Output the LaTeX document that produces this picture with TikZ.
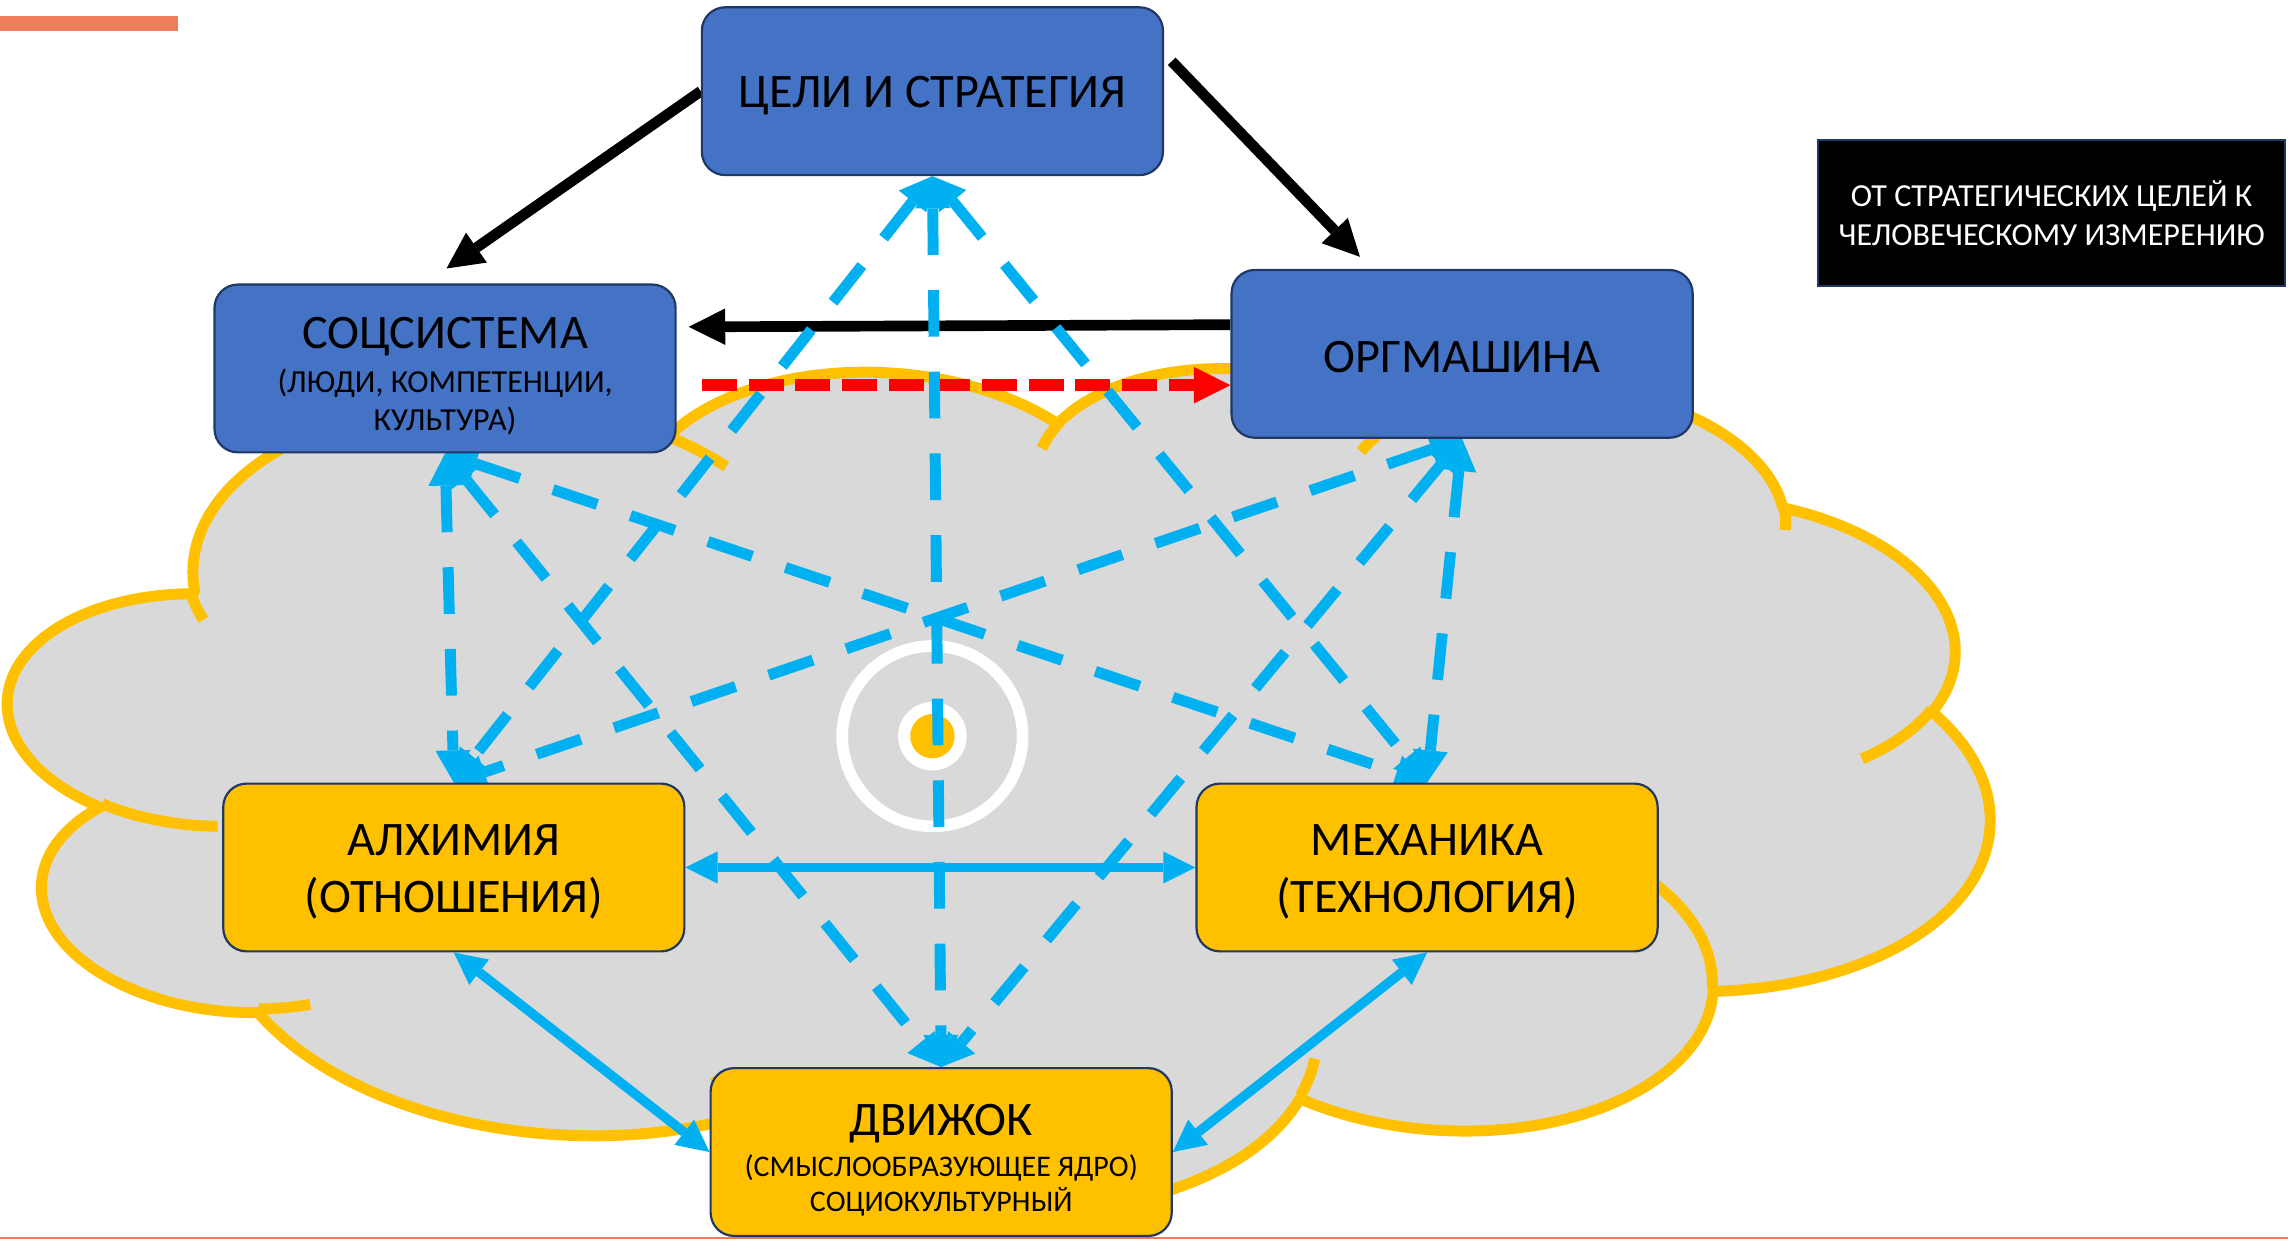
\documentclass[tikz,border=0pt]{standalone}
\usepackage{fontspec}
\setmainfont{Carlito}
\usetikzlibrary{arrows.meta,calc}
\pgfdeclarelayer{back}
\pgfdeclarelayer{mid}
\pgfsetlayers{back,mid,main}
\definecolor{boxblue}{HTML}{4472C4}
\definecolor{boxline}{HTML}{203864}
\definecolor{gold}{HTML}{FFC000}
\definecolor{skyb}{HTML}{00B0F0}
\definecolor{cloudgray}{HTML}{D9D9D9}
\definecolor{salmon}{HTML}{F07C5E}
\definecolor{redd}{HTML}{FF0000}
% visual angle -> parametric angle for elliptical arcs (DrawingML cloud)
\newcommand\cqdef[5]{%
  \pgfmathsetmacro\cqTa{atan2((#2)*sin(#4),(#3)*cos(#4))}%
  \pgfmathsetmacro\cqTb{atan2((#2)*sin((#4)+(#5)),(#3)*cos((#4)+(#5)))}%
  \pgfmathsetmacro\cqTd{\cqTb-\cqTa}%
  \pgfmathsetmacro\cqTd{\cqTd-360*round((\cqTd-(#5))/360)}%
  \expandafter\xdef\csname cq#1s\endcsname{\cqTa}%
  \expandafter\xdef\csname cq#1d\endcsname{\cqTd}%
}
\cqdef{A}{6.753}{9.190}{-190.4875}{123.7805}
\cqdef{B}{5.333}{7.267}{-144.1024}{89.9452}
\cqdef{C}{4.365}{5.945}{-145.8079}{99.7230}
\cqdef{D}{4.857}{6.595}{-130.9861}{117.2417}
\cqdef{E}{5.333}{7.273}{-78.7089}{109.0269}
\cqdef{F}{6.775}{9.220}{-46.2673}{130.2690}
\cqdef{G}{5.785}{7.867}{0.6250}{114.0333}
\cqdef{H}{6.752}{9.215}{22.4516}{115.1726}
\cqdef{I}{7.720}{10.543}{66.2426}{75.7110}
\cqdef{J}{4.360}{5.918}{-274.9421}{146.7356}
\cqdef{K}{4.345}{5.945}{-246.8285}{152.5189}
\cqdef{a}{4.345}{5.945}{86.7420}{26.4295}
\cqdef{b}{4.360}{5.918}{73.6105}{11.4475}
\cqdef{c}{6.752}{9.215}{137.6242}{14.0811}
\cqdef{d}{6.752}{9.215}{6.4533}{15.9984}
\cqdef{e}{5.785}{7.867}{-70.2924}{70.9174}
\cqdef{f}{5.333}{7.273}{30.3180}{27.7515}
\cqdef{g}{4.857}{6.595}{-13.7443}{14.8589}
\cqdef{h}{4.857}{6.595}{-149.1815}{18.1954}
\cqdef{i}{4.365}{5.945}{-163.4943}{17.6864}
\cqdef{j}{6.753}{9.190}{-66.7070}{12.3194}
\cqdef{k}{6.753}{9.190}{150.9244}{11.8467}
\begin{document}
\begin{tikzpicture}[x=1pt,y=-1pt,
  box/.style={draw=boxline, line width=1.5pt, rounded corners=16pt,
    minimum width=316pt, minimum height=115pt, inner sep=0pt},
  lbl/.style={inner sep=0pt, align=center},
  cloudline/.style={draw=gold, line width=7.5pt},
  blk/.style={black, line width=7.3pt, ->, >={Triangle[length=25pt,width=25pt,line width=0pt]}},
  rdash/.style={redd, line width=8pt, dash pattern=on 24pt off 8pt, ->, >={Triangle[length=25pt,width=25pt,line width=0pt]}},
  bdash/.style={skyb, line width=7.5pt, dash pattern=on 32pt off 24pt, <->, >={Triangle[length=22pt,width=24pt,line width=0pt]}},
  bsolid/.style={skyb, line width=6.5pt, <->, >={Triangle[length=22pt,width=22pt,line width=0pt]}}
]
\useasboundingbox (0,0) rectangle (1568,849);

% top-left bar and bottom rule
\fill[salmon] (0,11) rectangle (122,21);
\draw[salmon, line width=1.2pt] (0,848.3) -- (1568,848.3);

% boxes
\node[box, fill=boxblue] (goals) at (639,62.5) {};
\node[box, fill=boxblue] (soc) at (305,252.5) {};
\node[box, fill=boxblue] (org) at (1002,242.5) {};
\node[box, fill=gold] (alch) at (311,594.5) {};
\node[box, fill=gold] (mech) at (978,594.5) {};
\node[box, fill=gold] (engine) at (645,789.5) {};
\node[draw=boxline, line width=1.5pt, fill=black, text=white, minimum width=320pt,
  minimum height=100pt, inner sep=0pt, align=center, font=\fontsize{22}{27}\selectfont]
  (note) at (1406,146) {ОТ СТРАТЕГИЧЕСКИХ ЦЕЛЕЙ К\\ЧЕЛОВЕЧЕСКОМУ ИЗМЕРЕНИЮ};

% box texts
\node[lbl, font=\fontsize{33}{39}\selectfont] (goalsT) at ($(goals.center)+(0,3)$) {ЦЕЛИ И СТРАТЕГИЯ};
\node[lbl, font=\fontsize{33}{26}\selectfont] (socT) at ($(soc.center)+(0,5)$)
  {СОЦСИСТЕМА\\[4pt]\fontsize{22}{26}\selectfont (ЛЮДИ, КОМПЕТЕНЦИИ,\\\fontsize{22}{26}\selectfont КУЛЬТУРА)};
\node[lbl, font=\fontsize{33}{39}\selectfont] (orgT) at ($(org.center)+(0,2)$) {ОРГМАШИНА};
\node[lbl, font=\fontsize{33}{39}\selectfont] (alchT) at ($(alch.center)+(0,3)$) {АЛХИМИЯ\\(ОТНОШЕНИЯ)};
\node[lbl, font=\fontsize{33}{39}\selectfont] (mechT) at ($(mech.center)+(0,3)$) {МЕХАНИКА\\(ТЕХНОЛОГИЯ)};
\node[lbl, font=\fontsize{33}{24}\selectfont] (engineT) at ($(engine.center)+(0,5.5)$)
  {ДВИЖОК\\[4.5pt]\fontsize{20.5}{24}\selectfont (СМЫСЛООБРАЗУЮЩЕЕ ЯДРО)\\\fontsize{20.5}{24}\selectfont СОЦИОКУЛЬТУРНЫЙ};

% free ends
\coordinate (tipsoc) at (306,184);
\coordinate (gostart) at (803,42);
\coordinate (tiporg) at (932,176);
\coordinate (tipsoc2) at (472,224);
\coordinate (redstart) at (481,264);

% cloud
\begin{pgfonlayer}{back}
\begin{scope}[shift={(684,534.7)}, rotate=-3.27, xscale=31.48, yscale=13.55, shift={(-21.6,-21.6)}]
\filldraw[fill=cloudgray, cloudline, line join=round] (3.900,14.370)
  arc[start angle=\cqAs, delta angle=\cqAd, x radius=6.753, y radius=9.190]
  arc[start angle=\cqBs, delta angle=\cqBd, x radius=5.333, y radius=7.267]
  arc[start angle=\cqCs, delta angle=\cqCd, x radius=4.365, y radius=5.945]
  arc[start angle=\cqDs, delta angle=\cqDd, x radius=4.857, y radius=6.595]
  arc[start angle=\cqEs, delta angle=\cqEd, x radius=5.333, y radius=7.273]
  arc[start angle=\cqFs, delta angle=\cqFd, x radius=6.775, y radius=9.220]
  arc[start angle=\cqGs, delta angle=\cqGd, x radius=5.785, y radius=7.867]
  arc[start angle=\cqHs, delta angle=\cqHd, x radius=6.752, y radius=9.215]
  arc[start angle=\cqIs, delta angle=\cqId, x radius=7.720, y radius=10.543]
  arc[start angle=\cqJs, delta angle=\cqJd, x radius=4.360, y radius=5.918]
  arc[start angle=\cqKs, delta angle=\cqKd, x radius=4.345, y radius=5.945]
  -- cycle;
\draw[cloudline] (4.693,26.177) arc[start angle=\cqas, delta angle=\cqad, x radius=4.345, y radius=5.945];
\draw[cloudline] (6.928,34.899) arc[start angle=\cqbs, delta angle=\cqbd, x radius=4.360, y radius=5.918];
\draw[cloudline] (16.478,39.090) arc[start angle=\cqcs, delta angle=\cqcd, x radius=6.752, y radius=9.215];
\draw[cloudline] (28.827,34.751) arc[start angle=\cqds, delta angle=\cqdd, x radius=6.752, y radius=9.215];
\draw[cloudline] (34.129,22.954) arc[start angle=\cqes, delta angle=\cqed, x radius=5.785, y radius=7.867];
\draw[cloudline] (41.798,15.354) arc[start angle=\cqfs, delta angle=\cqfd, x radius=5.333, y radius=7.273];
\draw[cloudline] (38.324,5.426) arc[start angle=\cqgs, delta angle=\cqgd, x radius=4.857, y radius=6.595];
\draw[cloudline] (29.078,3.952) arc[start angle=\cqhs, delta angle=\cqhd, x radius=4.857, y radius=6.595];
\draw[cloudline] (22.141,4.720) arc[start angle=\cqis, delta angle=\cqid, x radius=4.365, y radius=5.945];
\draw[cloudline] (14.000,5.192) arc[start angle=\cqjs, delta angle=\cqjd, x radius=6.753, y radius=9.190];
\draw[cloudline] (4.127,15.789) arc[start angle=\cqks, delta angle=\cqkd, x radius=6.753, y radius=9.190];
\end{scope}
% centre target
\fill[white] (639,504.5) circle (23.5);
\fill[gold] (639,504.5) circle (15.2);
\draw[white, line width=8pt] (639,504.5) circle (61.8);
\end{pgfonlayer}

% connectors
\begin{pgfonlayer}{mid}
\draw[rdash] (redstart) -- ($(org.west)+(0,21.5)$);
\draw[blk] (goals.west) -- (tipsoc);
\draw[blk] (gostart) -- (tiporg);
\draw[blk] ($(org.west)+(0,-20)$) -- (tipsoc2);
\draw[bdash] (goals.south) -- (engine.north);
\draw[bdash] (goals.south) -- (alch.north);
\draw[bdash] (goals.south) -- (mech.north);
\draw[bdash] (soc.south) -- (alch.north);
\draw[bdash] (soc.south) -- (engine.north);
\draw[bdash] (soc.south) -- (mech.north);
\draw[bdash] (org.south) -- (alch.north);
\draw[bdash] (org.south) -- (mech.north);
\draw[bdash] (org.south) -- (engine.north);
\draw[bsolid] (alch.east) -- (mech.west);
\draw[bsolid] (alch.south) -- (engine.west);
\draw[bsolid] (mech.south) -- (engine.east);
\end{pgfonlayer}
\end{tikzpicture}
\end{document}
